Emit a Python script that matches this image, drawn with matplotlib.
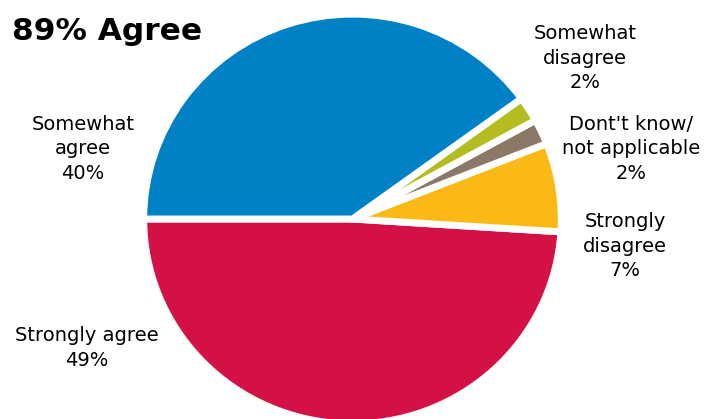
import matplotlib
matplotlib.use("Agg")
import matplotlib.pyplot as plt

# Survey answers, in drawing order (counter-clockwise from the left edge)
answers = ["Strongly agree", "Strongly disagree", "Dont't know/\nnot applicable",
           "Somewhat disagree", "Somewhat agree"]
shares = [49, 7, 2, 2, 40]
colors = ["#D31145", "#FBB916", "#8B7866", "#B4BC22", "#0081C6"]

title = "89% Agree"

W, H = 708, 419
K = 1.019  # the source pie is a touch wider than tall

fig = plt.figure(figsize=(W / 100, H / 100), dpi=100)
ax = fig.add_axes([0, 0, 1, 1])

ax.pie(shares, colors=colors, startangle=180, counterclock=True,
       center=(352.5, (H - 219) * K), radius=208.8,
       wedgeprops=dict(edgecolor="white", linewidth=5.0))
ax.set_aspect("auto")
ax.set_xlim(0, W)
ax.set_ylim(0, H * K)
ax.axis("off")


def px_text(x, y, s, **kw):
    fig.text(x / W, 1 - y / H, s, ha="center", va="center",
             multialignment="center", **kw)


lab = dict(fontsize=14, linespacing=1.39, color="#000000")
px_text(585, 58, "Somewhat\ndisagree\n2%", **lab)
px_text(631, 149, "Dont't know/\nnot applicable\n2%", **lab)
px_text(625, 246, "Strongly\ndisagree\n7%", **lab)
px_text(83, 149, "Somewhat\nagree\n40%", **lab)
px_text(87, 348, "Strongly agree\n49%", **lab)

fig.text(12 / W, 1 - 31 / H, title, ha="left", va="center",
         fontsize=22.5, fontweight="bold", color="#000000")

fig.savefig("out.png", dpi=100, facecolor="white")
